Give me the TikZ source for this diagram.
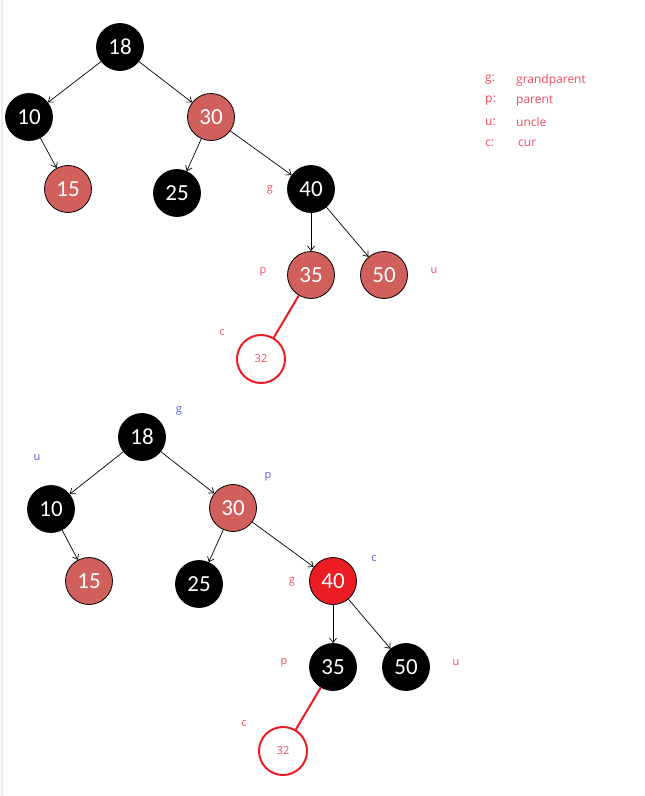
\documentclass[tikz,border=0pt]{standalone}
\usepackage{fontspec}
\setmainfont{Open Sans}
\newfontfamily\numfont{Carlito}
\usepackage{xcolor}
\usetikzlibrary{arrows.meta}

\definecolor{nodered}{HTML}{D15F5C}
\definecolor{hotred}{HTML}{EC1C24}
\definecolor{labelred}{HTML}{F04A60}
\definecolor{labelblue}{HTML}{5A5AE0}

\begin{document}
\begin{tikzpicture}[
    x=1pt, y=-1pt,
    rbnode/.style={circle, draw=black, line width=0.8pt, minimum size=47pt, inner sep=0pt, text=white, font=\numfont\fontsize{23}{26}\selectfont},
    blacknode/.style={rbnode, fill=black},
    rednode/.style={rbnode, fill=nodered},
    newnode/.style={circle, draw=hotred, line width=2pt, fill=white, minimum size=48pt, inner sep=0pt, text=labelred, font=\fontsize{11}{13}\selectfont},
    arrow/.style={-{Straight Barb[length=4.5pt, width=7pt]}, line width=0.7pt},
    redline/.style={draw=hotred, line width=2pt},
    tag/.style={font=\fontsize{11}{13}\selectfont, inner sep=0pt},
    redtag/.style={tag, text=labelred},
    bluetag/.style={tag, text=labelblue},
    legend/.style={font=\fontsize{12}{14}\selectfont, text=labelred, anchor=west, inner sep=0pt}
]
\useasboundingbox (0,0) rectangle (645,796);
\draw[black!8, line width=1.5pt] (2,0) -- (2,796);

% first tree: before recolouring
\node[blacknode] (a18) at (120,47) {18};
\node[blacknode] (a10) at (29,117) {10};
\node[rednode] (a30) at (211,117) {30};
\node[rednode] (a15) at (68,189) {15};
\node[blacknode] (a25) at (177,193) {25};
\node[blacknode] (a40) at (311,189) {40};
\node[rednode] (a35) at (311,275) {35};
\node[rednode] (a50) at (384,275) {50};
\node[newnode] (a32) at (261,359) {32};

\draw[arrow] (a18) -- (a10);
\draw[arrow] (a18) -- (a30);
\draw[arrow] (a10) -- (a15);
\draw[arrow] (a30) -- (a25);
\draw[arrow] (a30) -- (a40);
\draw[arrow] (a40) -- (a35);
\draw[arrow] (a40) -- (a50);
\draw[redline] (a35) -- (a32);

\node[redtag] (ag) at (270,190) {g};
\node[redtag] (ap) at (263,272) {p};
\node[redtag] (au) at (434,271) {u};
\node[redtag] (ac) at (222,333) {c};

% legend
\node[legend] (kg) at (485,80) {g:};
\node[legend] (kp) at (485,101) {p:};
\node[legend] (ku) at (485,122) {u:};
\node[legend] (kc) at (485,143) {c:};
\node[legend] (vg) at (516,80) {grandparent};
\node[legend] (vp) at (516,101) {parent};
\node[legend] (vu) at (516,122) {uncle};
\node[legend] (vc) at (518,143) {cur};

% second tree: after recolouring
\node[blacknode] (b18) at (142,437) {18};
\node[blacknode] (b10) at (51,509) {10};
\node[rednode] (b30) at (233,508) {30};
\node[rednode] (b15) at (89,581) {15};
\node[blacknode] (b25) at (199,584) {25};
\node[rbnode, fill=hotred] (b40) at (333,581) {40};
\node[blacknode] (b35) at (333,667) {35};
\node[blacknode] (b50) at (406,667) {50};
\node[newnode] (b32) at (283,751) {32};

\draw[arrow] (b18) -- (b10);
\draw[arrow] (b18) -- (b30);
\draw[arrow] (b10) -- (b15);
\draw[arrow] (b30) -- (b25);
\draw[arrow] (b30) -- (b40);
\draw[arrow] (b40) -- (b35);
\draw[arrow] (b40) -- (b50);
\draw[redline] (b35) -- (b32);

\node[bluetag] (bg) at (179,411) {g};
\node[bluetag] (bu) at (37,458) {u};
\node[bluetag] (bp) at (268,477) {p};
\node[bluetag] (bc) at (374,559) {c};
\node[redtag] (bg2) at (292,582) {g};
\node[redtag] (bp2) at (284,663) {p};
\node[redtag] (bu2) at (456,663) {u};
\node[redtag] (bc2) at (244,724) {c};
\end{tikzpicture}
\end{document}
